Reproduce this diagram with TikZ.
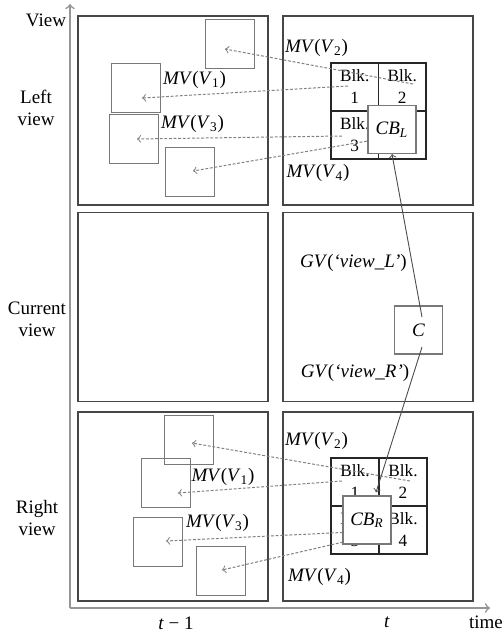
\documentclass[tikz,border=0pt]{standalone}
\usepackage{fontspec}
\setmainfont{Liberation Serif}
\usepackage{tikz}
\usetikzlibrary{arrows,shapes}
\definecolor{framegray}{RGB}{70,70,70}
\definecolor{boxgray}{RGB}{120,120,120}
\definecolor{axisgray}{RGB}{150,150,150}

\begin{document}
\begin{tikzpicture}[>=to,x=0.5pt,y=-0.5pt,
  every node/.style={font=\fontsize{9.5}{11}\selectfont},
  frame/.style={draw=framegray,line width=0.9pt,minimum width=95pt,minimum height=94.5pt,inner sep=0pt},
  refbox/.style={draw=boxgray,line width=0.5pt,minimum size=24.5pt,inner sep=0pt},
  cell/.style={draw=black!85,line width=0.8pt,minimum width=23.75pt,minimum height=24pt,inner sep=0pt,align=center,font=\fontsize{8.6}{11}\selectfont},
  curbox/.style={draw=boxgray,line width=0.6pt,fill=white,minimum size=24pt,inner sep=0pt},
  mv/.style={->,draw=black!50,line width=0.5pt,dash pattern=on 1.4pt off 0.9pt},
  gv/.style={->,draw=black!70,line width=0.45pt},
  axis/.style={->,draw=axisgray,line width=0.8pt},
  label/.style={inner sep=0pt,align=center}]
\useasboundingbox (0,0) rectangle (502,634);
%% axes
\coordinate (origin) at (70,608);
\coordinate (vtop) at (70,4);
\coordinate (tend) at (490,608);
\draw [axis] (origin) -- (vtop);
\draw [axis] (origin) -- (tend);
\node (view) at (46,20) [label] {View};
\node (left) at (36,108) [label] {Left\\view};
\node (cur) at (37,319) [label] {Current\\view};
\node (right) at (37,518) [label] {Right\\view};
\node (tprev) at (176,623) [label] {\textit{t} − 1};
\node (tnow) at (387,622) [label] {\textit{t}};
\node (time) at (486,622) [label] {time};
%% frames
\node (FLt) at (173,110.5) [frame] {};
\node (FRt) at (378,110.5) [frame] {};
\node (FLc) at (173,307) [frame] {};
\node (FRc) at (378,307) [frame] {};
\node (FLb) at (173,506.5) [frame] {};
\node (FRb) at (378,506.5) [frame] {};
%% left view
\node (tlA) at (230.5,43.5) [refbox] {};
\node (tlB) at (136.5,87.5) [refbox] {};
\node (tlC) at (134,139) [refbox] {};
\node (tlD) at (190,171.5) [refbox] {};
\node (tb1) at (354.75,87) [cell] {Blk.\\1};
\node (tb2) at (402.25,87) [cell] {Blk.\\2};
\node (tb3) at (354.75,135) [cell] {Blk.\\3};
\node (tb4) at (402.25,135) [cell] {};
\coordinate (tlAt) at (225,49);
\coordinate (tlBt) at (142,98);
\coordinate (tlCt) at (137,139);
\coordinate (tlDt) at (193,171);
\coordinate (tb2s) at (413,84);
\coordinate (tb1s) at (348,86);
\coordinate (tb3s) at (342,136);
\coordinate (tb4s) at (385,138);
\draw [mv] (tb2s) -- (tlAt);
\draw [mv] (tb1s) -- (tlBt);
\draw [mv] (tb3s) -- (tlCt);
\draw [mv] (tb4s) -- (tlDt);
\node (CBL) at (392,129.5) [curbox] {\textit{CB}\textsubscript{\textit{L}}};
\node (tmv1) at (194.5,80) [label] {\textit{MV}(\textit{V}\textsubscript{1})};
\node (tmv3) at (192.5,124) [label] {\textit{MV}(\textit{V}\textsubscript{3})};
\node (tmv2) at (316.5,48) [label] {\textit{MV}(\textit{V}\textsubscript{2})};
\node (tmv4) at (318,173) [label] {\textit{MV}(\textit{V}\textsubscript{4})};
%% current view
\node (C) at (418.5,330) [curbox] {\textit{C}};
\node (gvl) at (353.5,263) [label] {\textit{GV}(\textit{`view\_L'})};
\node (gvr) at (355,373) [label] {\textit{GV}(\textit{`view\_R'})};
%% right view
\node (blA) at (189,440) [refbox] {};
\node (blB) at (166.5,482.5) [refbox] {};
\node (blC) at (158.5,541.5) [refbox] {};
\node (blD) at (221.5,570.5) [refbox] {};
\node (bb1) at (355,482) [cell] {Blk.\\1};
\node (bb2) at (403,482) [cell] {Blk.\\2};
\node (bb3) at (355,530) [cell] {Blk.\\3};
\node (bb4) at (403,530) [cell] {Blk.\\4};
\coordinate (blAt) at (192,443);
\coordinate (blBt) at (178,493);
\coordinate (blCt) at (166,541);
\coordinate (blDt) at (222,570);
\coordinate (bb2s) at (410,481);
\coordinate (bb1s) at (342,481);
\coordinate (bb3s) at (352,532);
\coordinate (bb4s) at (352,540);
\draw [mv] (bb2s) -- (blAt);
\draw [mv] (bb1s) -- (blBt);
\draw [mv] (bb3s) -- (blCt);
\draw [mv] (bb4s) -- (blDt);
\node (CBR) at (367,520) [curbox] {\textit{CB}\textsubscript{\textit{R}}};
\node (bmv1) at (223,477) [label] {\textit{MV}(\textit{V}\textsubscript{1})};
\node (bmv3) at (217.5,523) [label] {\textit{MV}(\textit{V}\textsubscript{3})};
\node (bmv2) at (316.5,441) [label] {\textit{MV}(\textit{V}\textsubscript{2})};
\node (bmv4) at (319.5,577) [label] {\textit{MV}(\textit{V}\textsubscript{4})};
%% global vectors
\draw [gv] ([xshift=1.75pt,yshift=6.5pt]C.center) -- (CBL.south);
\draw [gv] ([xshift=1.75pt,yshift=-8.5pt]C.center) -- ([xshift=4.5pt,yshift=1.5pt]CBR.north);
%
\end{tikzpicture}
\end{document}
